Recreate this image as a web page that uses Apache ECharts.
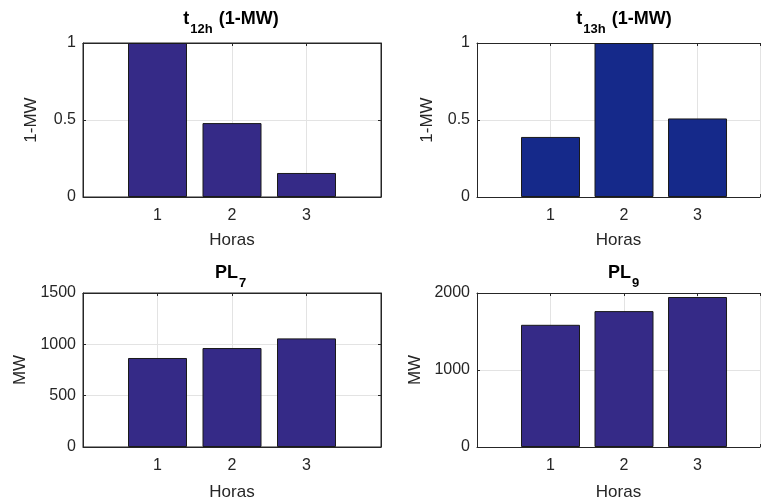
<!DOCTYPE html>
<html>
<head>
<meta charset="utf-8">
<script src="https://cdn.jsdelivr.net/npm/echarts@6/dist/echarts.min.js"></script>
<style>
  html, body { margin: 0; padding: 0; background: #fff; }
  #chart { width: 763px; height: 502px; }
</style>
</head>
<body>
<div id="chart"></div>
<script>
// horas (eje x) y valores de cada subplot
var horas = [1, 2, 3];
var t12h = [1, 0.48, 0.156];
var t13h = [0.39, 1, 0.51];
var pl7 = [867, 964, 1058];
var pl9 = [1587, 1765, 1948];

var font = 'Liberation Sans, Arial, sans-serif';
var txt = '#262626';

// los subplots de la derecha salen cortados por el borde de la figura
var panels = [
  {data: t12h, max: 1, step: 0.5, color: '#352a87', yName: '1-MW', yGap: 43,
   left: 83, top: 43, width: 298, xMax: 4, box: true, title: ['t', '12h', ' (1-MW)'], tTop: 6, xGap: 35, cx: 231},
  {data: t13h, max: 1, step: 0.5, color: '#15298a', yName: '1-MW', yGap: 41,
   left: 477, top: 43, width: 286, xMax: 3.85, box: false, title: ['t', '13h', ' (1-MW)'], tTop: 6, xGap: 35, cx: 624},
  {data: pl7, max: 1500, step: 500, color: '#352a87', yName: 'MW', yGap: 54,
   left: 83, top: 293, width: 298, xMax: 4, box: true, title: ['PL', '7', ''], tTop: 260, xGap: 37, cx: 231},
  {data: pl9, max: 2000, step: 1000, color: '#352a87', yName: 'MW', yGap: 53,
   left: 477, top: 293, width: 286, xMax: 3.85, box: false, title: ['PL', '9', ''], tTop: 260, xGap: 37, cx: 624}
];

var grid = [], xAxis = [], yAxis = [], series = [], title = [];
var lineS = {color: txt};
var tickS = {show: true, inside: true, length: 3, lineStyle: {color: txt}};

panels.forEach(function (p, i) {
  grid.push({left: p.left, top: p.top, width: p.width, height: 154,
    show: p.box, borderColor: txt, borderWidth: 1, backgroundColor: '#fff'});

  // eje x inferior
  xAxis.push({type: 'value', gridIndex: i, min: 0, max: p.xMax, interval: 1,
    name: 'Horas', nameLocation: 'middle', nameGap: p.xGap,
    nameTextStyle: {color: txt, fontFamily: font, fontSize: 17},
    axisLine: {show: true, onZero: false, lineStyle: lineS},
    axisTick: tickS,
    axisLabel: {color: txt, fontFamily: font, fontSize: 16, margin: 11, showMaxLabel: true,
      formatter: function (v) { return (v >= 1 && v <= 3) ? String(v) : ''; }},
    splitLine: {show: true, lineStyle: {color: '#e3e3e3'}}});
  // eje x superior (caja)
  xAxis.push({type: 'value', gridIndex: i, min: 0, max: p.xMax, interval: 1, position: 'top',
    axisLine: {show: true, onZero: false, lineStyle: lineS},
    axisTick: tickS, axisLabel: {show: false}, splitLine: {show: false}});

  yAxis.push({type: 'value', gridIndex: i, min: 0, max: p.max, interval: p.step,
    name: p.yName, nameLocation: 'middle', nameGap: p.yGap, nameRotate: 90,
    nameTextStyle: {color: txt, fontFamily: font, fontSize: 17},
    axisLine: {show: true, onZero: false, lineStyle: lineS},
    axisTick: tickS,
    axisLabel: {color: txt, fontFamily: font, fontSize: 16, margin: 7,
      formatter: function (v) { return String(v); }},
    splitLine: {show: true, lineStyle: {color: '#e3e3e3'}}});
  yAxis.push({type: 'value', gridIndex: i, min: 0, max: p.max, interval: p.step, position: 'right',
    show: p.box,
    axisLine: {show: true, onZero: false, lineStyle: lineS},
    axisTick: tickS, axisLabel: {show: false}, splitLine: {show: false}});

  series.push({type: 'bar', xAxisIndex: i * 2, yAxisIndex: i * 2,
    data: horas.map(function (h, k) { return [h, p.data[k]]; }),
    barWidth: 59, itemStyle: {color: p.color, borderColor: '#1a1a1a', borderWidth: 1},
    z: 1});

  title.push({
    text: '{b|' + p.title[0] + '}{s|' + p.title[1] + '}{b|' + p.title[2] + '}',
    left: p.cx, top: p.tTop, textAlign: 'center', padding: 0,
    textStyle: {rich: {
      b: {fontFamily: font, fontSize: 18, fontWeight: 'bold', color: '#000', verticalAlign: 'bottom', lineHeight: 22},
      s: {fontFamily: font, fontSize: 13, fontWeight: 'bold', color: '#000', verticalAlign: 'bottom', lineHeight: 14, padding: [0, 1, -8, 1]}
    }}
  });
});

var chart = echarts.init(document.getElementById('chart'), null, {renderer: 'canvas'});
chart.setOption({animation: false, backgroundColor: '#fff', title: title,
  grid: grid, xAxis: xAxis, yAxis: yAxis, series: series});
</script>
</body>
</html>
